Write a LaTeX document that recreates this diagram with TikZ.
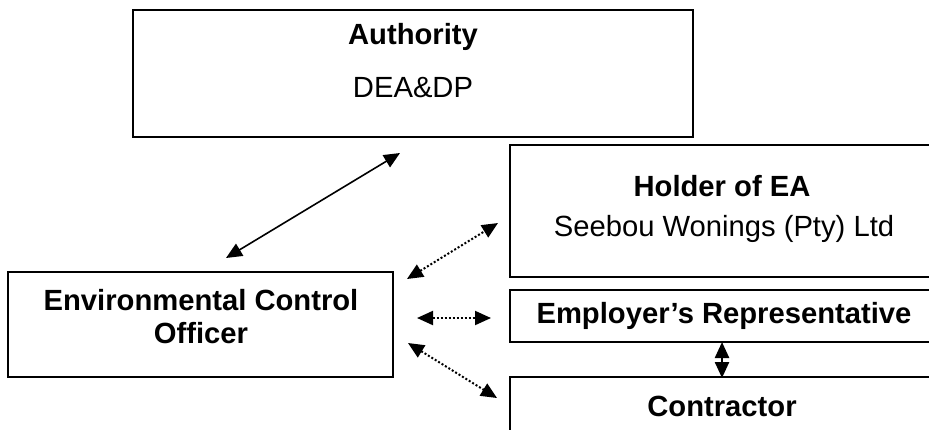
\documentclass[tikz,border=0pt]{standalone}
\usepackage{fontspec}
\setmainfont{Liberation Sans}
\usetikzlibrary{arrows.meta}

\begin{document}
\begin{tikzpicture}[x=0.5pt, y=-0.5pt,
  box/.style={draw, line width=1pt, inner sep=0pt},
  head/.style={font=\fontsize{14.6}{16.5}\selectfont\bfseries, align=center, inner sep=0pt},
  sub/.style={font=\fontsize{14.6}{16.5}\selectfont, inner sep=0pt},
  link/.style={{Triangle[length=8pt,width=7pt]}-{Triangle[length=8pt,width=7pt]}, line width=0.8pt},
  dots/.style={link, line width=1pt, dash pattern=on 1pt off 1pt}]
\useasboundingbox (0,0) rectangle (929,429);
\clip (0,0) rectangle (929,429);
% boxes
\node[box, minimum width=280pt, minimum height=63.5pt] (auth) at (413,73.5) {};
\node[box, minimum width=215pt, minimum height=66pt] (holder) at (725,211) {};
\node[box, minimum width=215pt, minimum height=26pt] (emp) at (725,316) {};
\node[box, minimum width=215pt, minimum height=40pt] (con) at (725,417) {};
\node[box, minimum width=192.5pt, minimum height=52.5pt] (eco) at (200.5,324.5) {};
% texts
\node[head] (authT) at (413,37) {Authority};
\node[sub] (authS) at (413,88) {DEA\&DP};
\node[head] (holderT) at (722,186) {Holder of EA};
\node[sub] (holderS) at (724,229) {Seebou Wonings (Pty) Ltd};
\node[head] (empT) at (724,316) {Employer’s Representative};
\node[head] (conT) at (722,406) {Contractor};
\node[head] (ecoT) at (201,317) {Environmental Control\\Officer};
% arrow ends
\coordinate (a1) at (400,153); \coordinate (e1) at (226,258);
\coordinate (h1) at (498,223); \coordinate (e2) at (407,279);
\coordinate (m1) at (491,318); \coordinate (e3) at (417,318);
\coordinate (c1) at (497,398); \coordinate (e4) at (408,343);
\coordinate (m2) at (722,342); \coordinate (c2) at (722,378);
\draw[link] (e1) -- (a1);
\draw[dots] (e2) -- (h1);
\draw[dots] (e3) -- (m1);
\draw[dots] (e4) -- (c1);
\draw[link, line width=1.2pt] (m2) -- (c2);
\end{tikzpicture}
\end{document}
